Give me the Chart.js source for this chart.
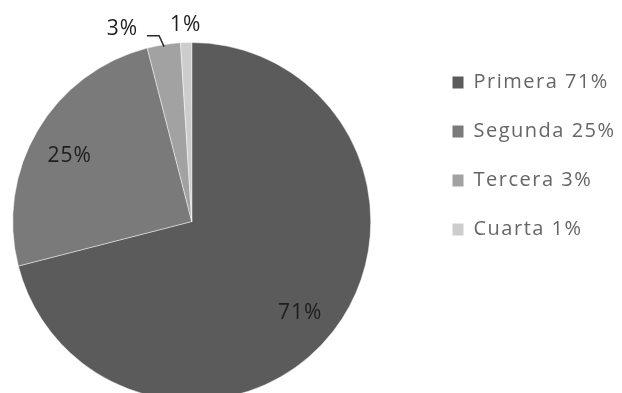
<!DOCTYPE html>
<html>
<head>
<meta charset="utf-8">
<script src="https://cdn.jsdelivr.net/npm/chart.js@4.4.1/dist/chart.umd.min.js"></script>
<style>
  html, body { margin: 0; padding: 0; background: #fff; overflow: hidden; }
  /* canvas pushed left so the pie sits closer to the edge than the chart area allows */
  #wrap { position: relative; width: 662px; height: 401px; margin-left: -40px; }
</style>
</head>
<body>
<div id="wrap"><canvas id="pieChart"></canvas></div>
<script>
const categories = ['Primera', 'Segunda', 'Tercera', 'Cuarta'];
const shares = [71, 25, 3, 1];
const sliceColors = ['#5b5b5b', '#7a7a7a', '#a2a2a2', '#cdcdcd'];

const legendSpacing = '1.5px';

// legend text is set a little wider than the font's natural spacing
const legendLetterSpacing = {
  id: 'legendLetterSpacing',
  beforeLayout(chart) { chart.ctx.letterSpacing = legendSpacing; },
  beforeDraw(chart) { chart.ctx.letterSpacing = legendSpacing; },
  beforeDatasetsDraw(chart) { chart.ctx.letterSpacing = '0px'; }
};

// percentage labels: big slices inside, thin ones above the rim
const pieLabels = {
  id: 'pieLabels',
  afterDatasetsDraw(chart) {
    const ctx = chart.ctx;
    const arcs = chart.getDatasetMeta(0).data;
    ctx.save();
    ctx.font = '21px "Open Sans", sans-serif';
    ctx.letterSpacing = '1px';
    ctx.fillStyle = '#1e1e1e';
    ctx.strokeStyle = '#2a2a2a';
    ctx.lineWidth = 1.5;
    ctx.textBaseline = 'middle';
    arcs.forEach((arc, i) => {
      const {x, y, startAngle, endAngle, outerRadius} =
        arc.getProps(['x', 'y', 'startAngle', 'endAngle', 'outerRadius'], true);
      const mid = (startAngle + endAngle) / 2;
      const cos = Math.cos(mid);
      const sin = Math.sin(mid);
      const text = shares[i] + '%';
      if (shares[i] >= 10) {
        ctx.textAlign = 'center';
        ctx.fillText(text, x + cos * outerRadius * 0.78 - 2, y + sin * outerRadius * 0.78 + 6);
      } else if (i === 2) {
        // short elbow leader going up-left from the rim
        const ex = x + cos * (outerRadius - 2);
        const ey = y + sin * (outerRadius - 2);
        ctx.beginPath();
        ctx.moveTo(ex, ey);
        ctx.lineTo(ex - 5, ey - 11);
        ctx.lineTo(ex - 17, ey - 11);
        ctx.stroke();
        ctx.textAlign = 'right';
        ctx.fillText(text, ex - 26, ey - 18);
      } else {
        ctx.textAlign = 'center';
        ctx.fillText(text, x + cos * (outerRadius + 18), y + sin * (outerRadius + 18));
      }
    });
    ctx.restore();
  }
};

const ctxPie = document.getElementById('pieChart').getContext('2d');
const pieChart = new Chart(ctxPie, {
  type: 'pie',
  data: {
    labels: categories,
    datasets: [{
      data: shares,
      backgroundColor: sliceColors,
      borderColor: 'rgba(255, 255, 255, 0.45)',
      borderWidth: 1
    }]
  },
  options: {
    responsive: true,
    maintainAspectRatio: false,
    animation: false,
    layout: {
      padding: { left: 0, top: 42, right: 4, bottom: 0 }
    },
    plugins: {
      tooltip: { enabled: false },
      legend: {
        position: 'right',
        align: 'start',
        maxWidth: 194.5,
        title: { display: true, text: '', font: { size: 1 }, padding: { top: 0.3, bottom: 0 } },
        labels: {
          boxWidth: 11,
          boxHeight: 12,
          padding: 29,
          color: '#383838',
          font: { family: '"Open Sans", sans-serif', size: 20 },
          generateLabels: () => categories.map((name, i) => ({
            text: name + ' ' + shares[i] + '%',
            fillStyle: sliceColors[i],
            strokeStyle: sliceColors[i],
            lineWidth: 0,
            hidden: false,
            index: i
          }))
        }
      }
    }
  },
  plugins: [legendLetterSpacing, pieLabels]
});
</script>
</body>
</html>
